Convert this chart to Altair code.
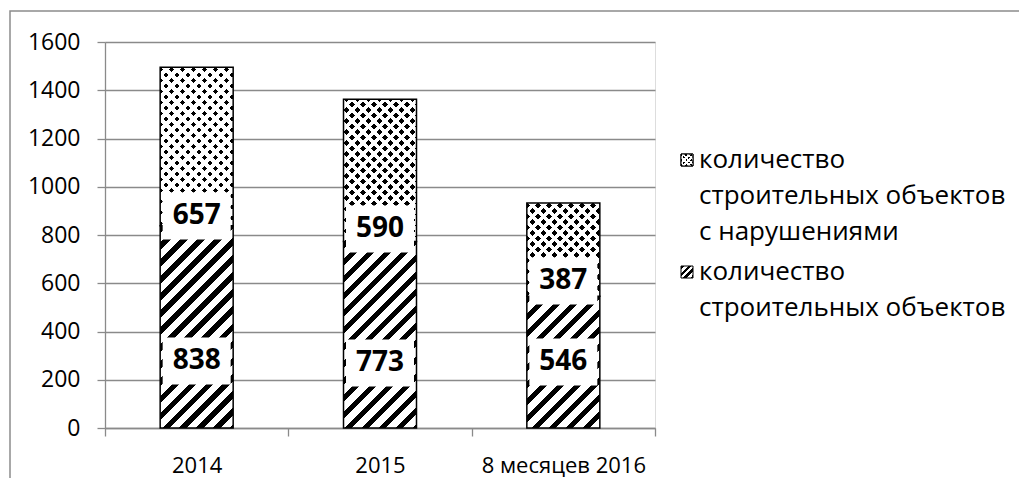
import altair as alt
import pandas as pd

# ---------------- data ----------------
categories = ["2014", "2015", "8 месяцев 2016"]
objects_total = [838, 773, 546]        # striped (bottom)
objects_violations = [657, 590, 387]   # dotted (top)
label_pos_bottom = [278, 269, 274]     # label centres
label_pos_top = [879, 825, 609]
y_ticks = [0, 200, 400, 600, 800, 1000, 1200, 1400, 1600]
legend_dots = ["количество", "строительных объектов", "с нарушениями"]
legend_stripes = ["количество", "строительных объектов"]

# ---------------- layout / style ----------------
W, H = 550, 386
YMAX = 1600
PPU = H / YMAX
BAR_W = 73
BOX_W, BOX_H = 68, 47
FONT = "Open Sans"
GRID = "#8a8a8a"


def stripe_fill(w, h, period, duty, on, off, kind):
    L = w + h
    stops = []
    k = 0
    while k * period < L:
        a = k * period / L
        b = min((k + duty) * period / L, 1.0)
        c = min((k + 1) * period / L, 1.0)
        stops += [(a, on), (b, on), (b, off), (c, off)]
        k += 1
    d = w * w + h * h
    if kind == "up":
        x1, y1, x2, y2 = 0, 0, w * L / d, h * L / d
    else:
        x1, y1, x2, y2 = 0, 1, w * L / d, 1 - h * L / d
    return {
        "gradient": "linear",
        "x1": x1, "y1": y1, "x2": x2, "y2": y2,
        "stops": [{"offset": round(o, 5), "color": col} for o, col in stops],
    }


rows = []
for c, a, b in zip(categories, objects_total, objects_violations):
    rows.append({"cat": c, "lo": 0, "hi": a, "kind": "stripes"})
    rows.append({"cat": c, "lo": a, "hi": a + b, "kind": "dots"})
df = pd.DataFrame(rows)

xenc = alt.X(
    "cat:N",
    sort=categories,
    scale=alt.Scale(domain=categories, paddingInner=0, paddingOuter=0),
    axis=alt.Axis(
        title=None, labelAngle=0, tickBand="extent", tickSize=8, tickColor=GRID,
        domainColor=GRID, domainWidth=1.3, tickWidth=1.3, labelFont=FONT,
        labelFontSize=22, labelColor="black", labelPadding=19, labelLimit=300,
        grid=False,
    ),
)
yscale = alt.Scale(domain=[0, YMAX], nice=False, zero=True)
yaxis = alt.Axis(
    title=None, values=y_ticks, format="d", tickSize=8, tickColor=GRID, domainColor=GRID,
    domainWidth=1.3, tickWidth=1.3, gridColor=GRID, gridWidth=1.3, grid=True,
    labelFont=FONT, labelFontSize=23, labelColor="black", labelPadding=17,
)


def yenc(field):
    return alt.Y(field, type="quantitative", scale=yscale, axis=yaxis)


layers = []

# outer frame of the picture
frame = alt.Chart(pd.DataFrame({"a": [0]})).mark_rect(
    filled=False, stroke="#8c8c8c", strokeWidth=1.5
).encode(x=alt.value(-95), x2=alt.value(1000), y=alt.value(-31), y2=alt.value(600))
layers.append(frame)

for i in range(len(df)):
    r = df.iloc[i]
    seg = df.iloc[[i]]
    h = (r["hi"] - r["lo"]) * PPU
    base = alt.Chart(seg)
    if r["kind"] == "stripes":
        layers.append(
            base.mark_bar(
                size=BAR_W, fill=stripe_fill(BAR_W, h, 17, 0.45, "black", "white", "up"),
                stroke="black", strokeWidth=1.5, fillOpacity=1,
            ).encode(x=xenc, y=yenc("lo"), y2="hi")
        )
    else:
        layers.append(
            base.mark_bar(
                size=BAR_W, fill=stripe_fill(BAR_W, h, 11, 0.5, "black", "white", "up"),
                fillOpacity=1,
            ).encode(x=xenc, y=yenc("lo"), y2="hi")
        )
        layers.append(
            base.mark_bar(
                size=BAR_W,
                fill=stripe_fill(BAR_W, h, 11, 0.5, "rgba(255,255,255,0)", "white", "down"),
                stroke="black", strokeWidth=1.5, fillOpacity=1,
            ).encode(x=xenc, y=yenc("lo"), y2="hi")
        )

# value labels with white boxes
lab_rows = []
for c, v1, v2, p1, p2 in zip(categories, objects_total, objects_violations,
                             label_pos_bottom, label_pos_top):
    lab_rows.append({"cat": c, "pos": p1, "txt": str(v1)})
    lab_rows.append({"cat": c, "pos": p2, "txt": str(v2)})
lab = pd.DataFrame(lab_rows)
half = BOX_H / 2 / PPU
lab["lo"] = lab["pos"] - half
lab["hi"] = lab["pos"] + half

layers.append(
    alt.Chart(lab).mark_bar(size=BOX_W, color="white", fillOpacity=1)
    .encode(x=xenc, y=yenc("lo"), y2="hi")
)
layers.append(
    alt.Chart(lab).mark_text(
        font=FONT, fontSize=28, fontWeight="bold", color="black", baseline="middle"
    ).encode(x=xenc, y=yenc("pos"), text="txt:N")
)

# manual legend
SW = 12
leg_x = 576
leg_text_x = 594
leg_y1 = 118
leg_y2 = 230
LH = 36
one = pd.DataFrame({"a": [0]})
layers.append(
    alt.Chart(one).mark_rect(
        fill=stripe_fill(SW, SW, 5, 0.5, "black", "white", "up"), stroke="black", strokeWidth=1
    ).encode(x=alt.value(leg_x), x2=alt.value(leg_x + SW),
             y=alt.value(leg_y1 - SW / 2), y2=alt.value(leg_y1 + SW / 2))
)
layers.append(
    alt.Chart(one).mark_rect(
        fill=stripe_fill(SW, SW, 5, 0.5, "rgba(255,255,255,0)", "white", "down"),
        stroke="black", strokeWidth=1
    ).encode(x=alt.value(leg_x), x2=alt.value(leg_x + SW),
             y=alt.value(leg_y1 - SW / 2), y2=alt.value(leg_y1 + SW / 2))
)
layers.append(
    alt.Chart(one).mark_rect(
        fill=stripe_fill(SW, SW, 7, 0.5, "black", "white", "up"), stroke="black", strokeWidth=1
    ).encode(x=alt.value(leg_x), x2=alt.value(leg_x + SW),
             y=alt.value(leg_y2 - SW / 2), y2=alt.value(leg_y2 + SW / 2))
)
layers.append(
    alt.Chart(one).mark_text(
        font=FONT, fontSize=26, color="black", align="left", baseline="middle", lineHeight=LH
    ).encode(x=alt.value(leg_text_x), y=alt.value(leg_y1), text=alt.value(legend_dots))
)
layers.append(
    alt.Chart(one).mark_text(
        font=FONT, fontSize=26, color="black", align="left", baseline="middle", lineHeight=LH
    ).encode(x=alt.value(leg_text_x), y=alt.value(leg_y2), text=alt.value(legend_stripes))
)

chart = alt.layer(*layers).properties(
    width=W, height=H,
    padding={"left": 97, "top": 34, "right": 364, "bottom": 50},
    autosize="none",
).configure_view(stroke=None).configure(background="white")

chart.save("out.html", embed_options={"renderer": "svg", "actions": False})
